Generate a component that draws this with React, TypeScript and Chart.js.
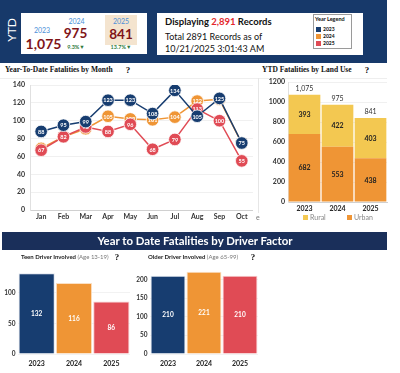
import React, { useEffect, useRef } from "react";
import { Chart, registerables } from "chart.js";
Chart.register(...registerables);

const MONTHS = ["Jan", "Feb", "Mar", "Apr", "May", "Jun", "Jul", "Aug", "Sep", "Oct"];
const MONTHLY_2023 = [88, 95, 99, 123, 123, 108, 134, 105, 125, 75];
const MONTHLY_2024 = [69, 82, 91, 105, 102, 101, 104, 122, 124, 75];
const MONTHLY_2025 = [67, 82, 93, 88, 96, 68, 79, 113, 100, 55];
const YEARS = ["2023", "2024", "2025"];
const RURAL = [393, 422, 403];
const URBAN = [682, 553, 438];
const TEEN = [132, 116, 86];
const OLDER = [210, 221, 210];

const BLUE = "#173d70";
const ORANGE = "#ef9535";
const RED = "#e04b55";
const YELLOW = "#f3c851";
const SANS = "Lato, 'Open Sans', sans-serif";
const SERIF = "'Liberation Serif', 'DejaVu Serif', serif";

const fmt = (v: number) => v.toLocaleString("en-US");

function labelPlugin(mode: "point" | "mid", font: string, color: string) {
  return {
    id: "vlabels",
    afterDatasetDraw(chart: any, args: any) {
      const ds = chart.data.datasets[args.index];
      const meta = args.meta;
      const ctx = chart.ctx;
      ctx.save();
      ctx.font = font;
      ctx.textAlign = "center";
      ctx.textBaseline = "middle";
      ctx.fillStyle = color;
      meta.data.forEach((el: any, i: number) => {
        const v = ds.data[i];
        const y = mode === "point" ? el.y : (el.y + el.base) / 2;
        ctx.fillText(fmt(v), el.x, y + 0.5);
      });
      ctx.restore();
    },
  };
}

const totalsPlugin = {
  id: "totals",
  afterDatasetsDraw(chart: any) {
    const ctx = chart.ctx;
    const n = chart.data.datasets.length;
    const top = chart.getDatasetMeta(n - 1);
    ctx.save();
    ctx.font = `7px ${SANS}`;
    ctx.fillStyle = "#333";
    ctx.textAlign = "center";
    ctx.textBaseline = "middle";
    top.data.forEach((el: any, i: number) => {
      let s = 0;
      chart.data.datasets.forEach((d: any) => (s += d.data[i]));
      ctx.fillText(fmt(s), el.x, el.y - 6);
    });
    ctx.restore();
  },
};

function useChart(make: (c: HTMLCanvasElement) => Chart) {
  const ref = useRef<HTMLCanvasElement>(null);
  useEffect(() => {
    const ch = make(ref.current!);
    return () => ch.destroy();
  }, []);
  return ref;
}

const tickFont = (size = 7) => ({ size, weight: "bold", family: SANS });
const noRot = { maxRotation: 0, minRotation: 0, autoSkip: false };

function LineChart() {
  const ref = useChart((c) =>
    new Chart(c, {
      type: "line",
      data: {
        labels: MONTHS,
        datasets: [
          { label: "2023", data: MONTHLY_2023, borderColor: BLUE, backgroundColor: BLUE },
          { label: "2025", data: MONTHLY_2025, borderColor: RED, backgroundColor: RED },
          { label: "2024", data: MONTHLY_2024, borderColor: ORANGE, backgroundColor: ORANGE },
        ].map((d) => ({
          ...d,
          borderWidth: 1.5,
          pointRadius: 6.3,
          pointBorderColor: "#ffffff",
          pointBorderWidth: 0.8,
          pointBackgroundColor: d.backgroundColor,
          tension: 0,
        })),
      },
      options: {
        animation: false,
        responsive: false,
        layout: { padding: { top: 10, right: 2, left: 0, bottom: 0 } },
        plugins: { legend: { display: false }, tooltip: { enabled: false } },
        scales: {
          x: {
            offset: true,
            grid: { display: false, drawTicks: false },
            border: { color: "#d0d0d0" },
            ticks: { font: tickFont(7), color: "#333", padding: 3, ...noRot },
            afterFit: (s: any) => { s.height = 15; },
          },
          y: {
            min: 0,
            max: 140,
            ticks: { stepSize: 20, font: tickFont(7), color: "#333", padding: 5 },
            grid: { color: "#f0f0f0", drawTicks: false },
            border: { color: "#e0e0e0" },
            afterFit: (s: any) => { s.width = 30; },
          },
        },
      },
      plugins: [labelPlugin("point", `bold 5.5px ${SANS}`, "#ffffff")],
    } as any)
  );
  return <canvas ref={ref} width={260} height={150} style={{ position: "absolute", left: 0, top: 75, width: 260, height: 150 }} />;
}

function LandUseChart() {
  const ref = useChart((c) =>
    new Chart(c, {
      type: "bar",
      data: {
        labels: YEARS,
        datasets: [
          { label: "Urban", data: URBAN, backgroundColor: ORANGE },
          { label: "Rural", data: RURAL, backgroundColor: YELLOW },
        ].map((d) => ({ ...d, barPercentage: 0.96, categoryPercentage: 1 })),
      },
      options: {
        animation: false,
        responsive: false,
        layout: { padding: { top: 4.8, right: 1, left: 0, bottom: 0 } },
        plugins: { legend: { display: false }, tooltip: { enabled: false } },
        scales: {
          x: {
            stacked: true,
            grid: { display: false, drawTicks: false },
            border: { color: "#d0d0d0" },
            ticks: { font: tickFont(7), color: "#222", padding: 3, ...noRot },
            afterFit: (s: any) => { s.height = 12; },
          },
          y: {
            stacked: true,
            min: 0,
            max: 1200,
            ticks: { stepSize: 200, font: tickFont(7), color: "#333", padding: 3, callback: (v: any) => String(v) },
            grid: { color: "#f0f0f0", drawTicks: false },
            border: { color: "#e0e0e0" },
            afterFit: (s: any) => { s.width = 30; },
          },
        },
      },
      plugins: [labelPlugin("mid", `bold 7px ${SANS}`, "#222"), totalsPlugin],
    } as any)
  );
  return <canvas ref={ref} width={130} height={139} style={{ position: "absolute", left: 258, top: 75, width: 130, height: 139 }} />;
}

function DriverChart({ data, max, left, width, top }: { data: number[]; max: number; left: number; width: number; top: number }) {
  const ref = useChart((c) =>
    new Chart(c, {
      type: "bar",
      data: {
        labels: YEARS,
        datasets: [
          {
            data,
            backgroundColor: [BLUE, ORANGE, RED],
            borderColor: ["#dfe5ee", "#fbe0c4", "#f6c9cc"],
            borderWidth: 1,
            barPercentage: 0.97,
            categoryPercentage: 1,
          },
        ],
      },
      options: {
        animation: false,
        responsive: false,
        layout: { padding: { top, right: 2, left: 0, bottom: 0 } },
        plugins: { legend: { display: false }, tooltip: { enabled: false } },
        scales: {
          x: {
            grid: { display: false, drawTicks: false },
            border: { display: false },
            ticks: { font: tickFont(7), color: "#222", padding: 6, ...noRot },
            afterFit: (s: any) => { s.height = 19; },
          },
          y: {
            min: 0,
            max,
            ticks: { stepSize: 50, font: tickFont(6.5), color: "#333", padding: 2.5, autoSkip: false },
            afterBuildTicks: (s: any) => { s.ticks = s.ticks.filter((t: any) => t.value % 50 === 0); },
            grid: { color: "#f2f2f2", drawTicks: false },
            border: { display: false },
            afterFit: (s: any) => { s.width = 18; },
          },
        },
      },
      plugins: [labelPlugin("mid", `bold 6.5px ${SANS}`, "#ffffff")],
    } as any)
  );
  return <canvas ref={ref} width={width} height={111} style={{ position: "absolute", left, top: 262, width, height: 111 }} />;
}

type TP = { x: number; y: number; size: number; bold?: boolean; color?: string; center?: boolean; family?: string; children: React.ReactNode };
function T({ x, y, size, bold, color = "#111", center, family = SANS, children }: TP) {
  return (
    <div
      style={{
        position: "absolute",
        left: x,
        top: y,
        transform: center ? "translate(-50%,-50%)" : "translate(0,-50%)",
        fontSize: size,
        fontWeight: bold ? 700 : 400,
        color,
        fontFamily: family,
        lineHeight: 1,
        whiteSpace: "nowrap",
      }}
    >
      {children}
    </div>
  );
}

function Box({ x, y, w, h, bg, border }: { x: number; y: number; w: number; h: number; bg: string; border?: string }) {
  return <div style={{ position: "absolute", left: x, top: y, width: w, height: h, background: bg, border, boxSizing: "border-box" }} />;
}

export default function App() {
  const yb = "#4a8fd8";
  const dr = "#7f1418";
  const gr = "#2f7a3a";
  const legend = [["2023", BLUE], ["2024", ORANGE], ["2025", RED]];
  return (
    <div style={{ position: "fixed", left: 0, top: 0, width: 400, height: 373, background: "#fff", overflow: "hidden", fontFamily: SANS }}>
      {/* header */}
      <Box x={0} y={0} w={387} h={63} bg="#17396a" />
      <div style={{ position: "absolute", left: 12, top: 30, transform: "translate(-50%,-50%) rotate(-90deg)", color: "#fff", fontSize: 12, fontFamily: SANS, lineHeight: 1 }}>YTD</div>
      <Box x={21} y={13} w={126} h={41} bg="#ffffff" />
      <Box x={105} y={15} w={32} h={30} bg="#f4e4cf" />
      <T x={42} y={30} size={7} color={yb} center>2023</T>
      <T x={43.5} y={44} size={14} bold color={dr} center>1,075</T>
      <T x={76.5} y={21} size={7} color={yb} center>2024</T>
      <T x={75.5} y={34} size={13.5} bold color={dr} center>975</T>
      <T x={76} y={48} size={5.5} bold color={gr} center>9.3%▼</T>
      <T x={121} y={21} size={7} color={yb} center>2025</T>
      <T x={121} y={35} size={13.5} bold color={dr} center>841</T>
      <T x={121} y={48} size={5.5} bold color={gr} center>13.7%▼</T>

      <Box x={157} y={13} w={206} h={42} bg="#ffffff" />
      <T x={165} y={22} size={9.5} bold>
        Displaying <span style={{ color: "#e3262d" }}>2,891</span> Records
      </T>
      <T x={165} y={36} size={9}>Total 2891 Records as of</T>
      <T x={165} y={48} size={9}>10/21/2025 3:01:43 AM</T>
      <Box x={313} y={14} w={39} h={35} bg="#ffffff" border="1px solid #9a9a9a" />
      <T x={315} y={20} size={5.5} bold>Year Legend</T>
      {legend.map(([l, c], i) => (
        <React.Fragment key={l}>
          <Box x={316} y={26.5 + i * 7} w={5} h={5} bg={c} />
          <T x={323} y={29 + i * 7} size={5} bold>{l}</T>
        </React.Fragment>
      ))}

      {/* panel titles */}
      <T x={5} y={70} size={7.5} bold family={SERIF}>Year-To-Date Fatalities by Month</T>
      <T x={128} y={70} size={9} bold family={SERIF} center>?</T>
      <T x={262} y={70} size={7.5} bold family={SERIF}>YTD Fatalities by Land Use</T>
      <T x={367} y={70} size={9} bold family={SERIF} center>?</T>
      <Box x={0} y={78} w={387} h={1} bg="#eeeeee" />
      <Box x={258} y={78} w={1} h={135} bg="#e6e6e6" />

      <LineChart />
      <LandUseChart />
      <T x={256} y={217} size={7} color="#777">e</T>
      <Box x={303} y={214.5} w={5} h={5} bg={YELLOW} />
      <T x={310} y={217} size={7} color="#888">Rural</T>
      <Box x={347} y={214.5} w={5} h={5} bg={ORANGE} />
      <T x={354} y={217} size={7} color="#888">Urban</T>

      {/* driver factor */}
      <Box x={2} y={232} w={385} h={18} bg="#1a2f5a" />
      <T x={195} y={241} size={11.4} bold color="#fff" center>Year to Date Fatalities by Driver Factor</T>
      <T x={21} y={257} size={6} bold color="#222">
        Teen Driver Involved <span style={{ fontWeight: 400, color: "#777" }}>(Age 13-19)</span>
      </T>
      <T x={117} y={257} size={9} bold family={SERIF} center>?</T>
      <T x={148} y={257} size={6} bold color="#222">
        Older Driver Involved <span style={{ fontWeight: 400, color: "#777" }}>(Age 65-99)</span>
      </T>
      <T x={253} y={257} size={9} bold family={SERIF} center>?</T>
      <DriverChart data={TEEN} max={140} left={0} width={132} top={2.4} />
      <DriverChart data={OLDER} max={230} left={132} width={128} top={4.6} />
    </div>
  );
}
